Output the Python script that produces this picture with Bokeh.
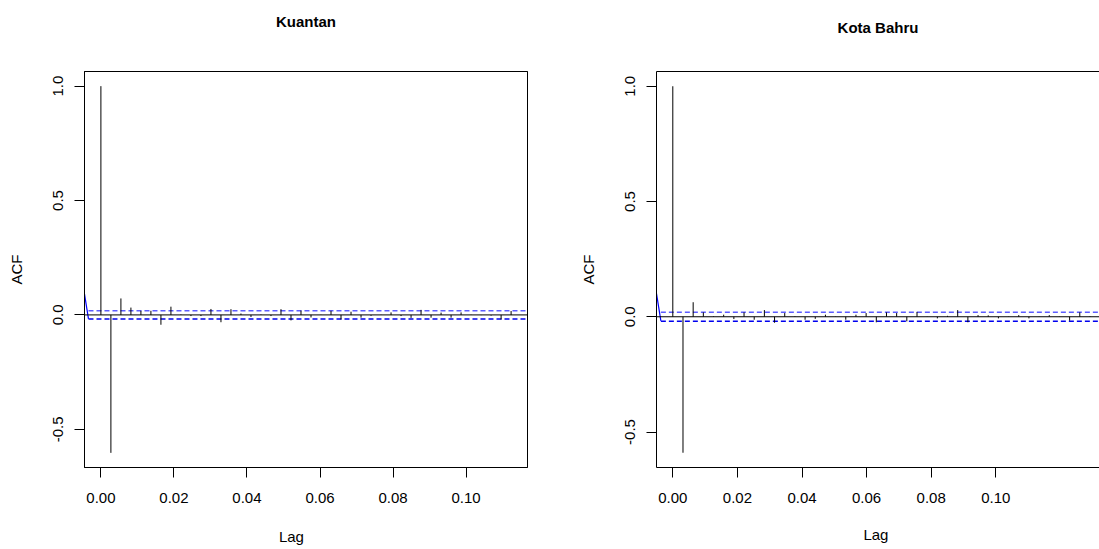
from bokeh.plotting import figure
from bokeh.layouts import row
from bokeh.models import Range1d, FixedTicker, Span, LinearAxis, PrintfTickFormatter
from bokeh.embed import file_html
from bokeh.resources import INLINE

# ---------------- data ----------------
titles = ["Kuantan", "Kota Bahru"]
x_label = "Lag"
y_label = "ACF"
x_tick_values = [0.0, 0.02, 0.04, 0.06, 0.08, 0.10]
y_tick_values = [-0.5, 0.0, 0.5, 1.0]

acf_kuantan = [1.0, -0.603, 0.072, 0.032, 0.018, 0.018, -0.043, 0.036, 0.002, -0.005,
               -0.005, 0.026, -0.032, 0.025, 0.006, -0.009, 0.002, -0.005, 0.025, -0.024,
               0.019, -0.011, 0.001, 0.018, -0.020, 0.014, -0.012, -0.004, 0.001, 0.011,
               -0.005, -0.013, 0.022, -0.012, 0.010, -0.012, 0.011, 0.001, -0.001, -0.003,
               -0.020, 0.017]
acf_kotabahru = [1.0, -0.590, 0.063, 0.019, 0.002, 0.009, -0.010, 0.019, -0.013, 0.029,
                 -0.026, 0.016, 0.002, -0.013, -0.009, 0.009, 0.001, -0.013, 0.009, 0.016,
                 -0.024, 0.019, 0.016, -0.020, 0.021, 0.001, -0.007, 0.004, 0.029, -0.024,
                 0.007, 0.006, -0.007, 0.001, 0.007, -0.007, 0.001, 0.007, 0.001, -0.017,
                 0.019, 0.002]
lag_step_kuantan = 1 / 365
lag_step_kotabahru = 0.00315
lags_kuantan = [k * lag_step_kuantan for k in range(len(acf_kuantan))]
lags_kotabahru = [k * lag_step_kotabahru for k in range(len(acf_kotabahru))]

ci_kuantan = 0.018
ci_kotabahru = 0.019
ci_start_kuantan = -0.0034
ci_start_kotabahru = -0.0037

stray_x_kuantan = [-0.0045, -0.0034]
stray_y_kuantan = [0.092, -0.017]
stray_x_kotabahru = [-0.00505, -0.0037]
stray_y_kotabahru = [0.100, -0.018]

x_range_kuantan = (-0.00449, 0.11682)
y_range_kuantan = (-0.667, 1.064)
x_range_kotabahru = (-0.00505, 0.13210)
y_range_kotabahru = (-0.654, 1.064)

FONT = "Liberation Sans"
TICK_SIZE = "15px"
LABEL_SIZE = "15px"
TITLE_SIZE = "15px"
NBSP = "\u00a0"


def make_panel(title, lags, acf, ci, ci_start, sx, sy, xr, yr, width, height,
               bl, br, bt, bb, title_standoff, lag_standoff, lag_pad, box_outline):
    p = figure(width=width, height=height, output_backend="svg", toolbar_location=None,
               x_range=Range1d(*xr), y_range=Range1d(*yr),
               min_border_left=bl, min_border_right=br, min_border_top=bt, min_border_bottom=bb)
    p.background_fill_color = "white"
    p.border_fill_color = "white"
    p.grid.visible = False

    xax = p.xaxis[0]
    yax = p.yaxis[0]

    if box_outline:
        p.outline_line_color = "black"
        p.outline_line_alpha = 1.0
        p.outline_line_width = 1
    else:
        p.outline_line_color = None

    # top axis: carries the top border line and the panel title
    top = LinearAxis(ticker=FixedTicker(ticks=[]), major_label_text_font_size="0px",
                     major_tick_out=0, major_tick_in=0, minor_tick_out=0, minor_tick_in=0,
                     major_label_standoff=0, axis_line_color="black", axis_line_width=1,
                     axis_label=title, axis_label_standoff=title_standoff,
                     axis_label_text_font=FONT, axis_label_text_font_size=TITLE_SIZE,
                     axis_label_text_font_style="bold", axis_label_text_color="black")
    p.add_layout(top, "above")

    for ax in (xax, yax):
        ax.axis_line_color = "black"
        ax.axis_line_width = 1
        ax.major_tick_line_color = "black"
        ax.major_tick_out = 10
        ax.major_tick_in = 0
        ax.minor_tick_line_color = None
        ax.major_label_text_font = FONT
        ax.major_label_text_font_size = TICK_SIZE
        ax.major_label_text_color = "black"
        ax.axis_label_text_font = FONT
        ax.axis_label_text_font_size = LABEL_SIZE
        ax.axis_label_text_font_style = "normal"
        ax.axis_label_text_color = "black"

    xax.ticker = FixedTicker(ticks=x_tick_values)
    xax.formatter = PrintfTickFormatter(format="%.2f")
    xax.major_label_standoff = 15
    xax.axis_label = x_label + NBSP * lag_pad
    xax.axis_label_standoff = lag_standoff
    yax.ticker = FixedTicker(ticks=y_tick_values)
    yax.formatter = PrintfTickFormatter(format="%.1f")
    yax.major_label_orientation = "vertical"
    yax.major_label_standoff = 11
    yax.axis_label = y_label
    yax.axis_label_standoff = 26

    # zero line
    p.add_layout(Span(location=0, dimension="width", line_color="black", line_width=1))
    # confidence bounds
    p.line([ci_start, xr[1]], [ci, ci], line_color="#5c5cff", line_width=1.5, line_dash="5 3")
    p.line([ci_start, xr[1]], [-ci, -ci], line_color="#0000ee", line_width=1.5, line_dash="5 3")
    # stray blue stroke at left edge
    p.line(sx, sy, line_color="blue", line_width=1.2)
    # acf spikes
    p.segment(x0=lags, y0=[0] * len(lags), x1=lags, y1=acf, line_color="black", line_width=1)
    return p


# left figure occupies canvas x 0..568, right figure 568..1099
p1 = make_panel(titles[0], lags_kuantan, acf_kuantan, ci_kuantan, ci_start_kuantan,
                stray_x_kuantan, stray_y_kuantan, x_range_kuantan, y_range_kuantan,
                568, 549, 84, 41, 67, 82, 42, 22, 7, True)
p2 = make_panel(titles[1], lags_kotabahru, acf_kotabahru, ci_kotabahru, ci_start_kotabahru,
                stray_x_kotabahru, stray_y_kotabahru, x_range_kotabahru, y_range_kotabahru,
                531, 549, 88, 0, 71, 80, 36, 20, 1, False)

layout = row(p1, p2)
open("out.html", "w").write(file_html(layout, INLINE))
